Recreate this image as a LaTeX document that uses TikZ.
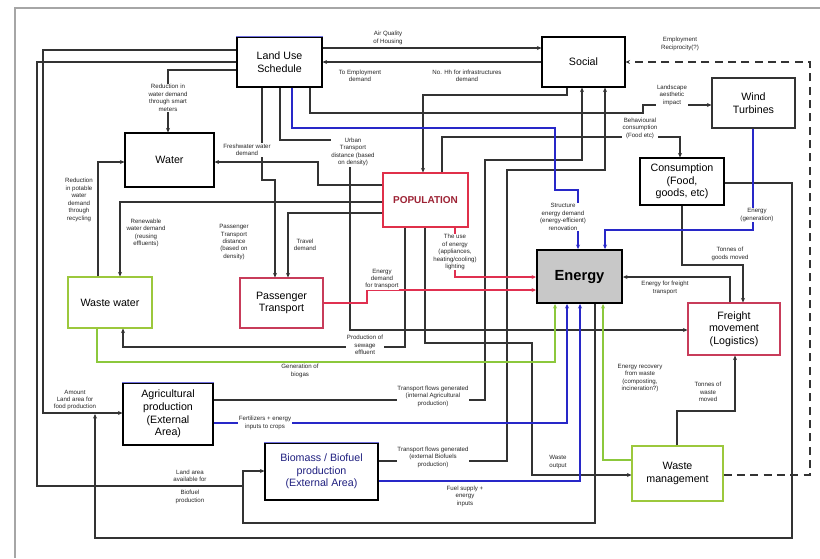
\documentclass[tikz,border=0pt]{standalone}
\usepackage{fontspec}
\setmainfont{Liberation Sans}
\usetikzlibrary{arrows.meta}
\definecolor{ln}{HTML}{333333}
\definecolor{popred}{HTML}{E0304A}
\definecolor{tred}{HTML}{C83C5A}
\definecolor{wgreen}{HTML}{9CC83C}
\definecolor{engray}{HTML}{C8C8C8}
\definecolor{blueln}{HTML}{2828C8}
\definecolor{greenln}{HTML}{8CC83C}
\definecolor{redln}{HTML}{E03050}
\definecolor{blueedge}{HTML}{7070E0}
\definecolor{bluetext}{HTML}{202080}
\begin{document}
\begin{tikzpicture}[x=0.75pt,y=-0.75pt,
 box/.style={draw=black, line width=0.8pt, fill=white, align=center, font=\fontsize{8}{9.5}\selectfont, inner sep=1pt},
 sz/.style 2 args={minimum width=#1*0.75pt, minimum height=#2*0.75pt},
 lbl/.style={fill=white, inner sep=0.4pt, align=center, font=\fontsize{4.6}{5.6}\selectfont, text=black!85},
 conn/.style={draw=ln, line width=0.85pt, -{Stealth[length=3.4pt,width=3pt]}},
 plain/.style={draw=ln, line width=0.85pt}]
\useasboundingbox (0,0) rectangle (820,558);
\draw[gray!70, line width=1.5pt] (15,558) -- (15,8) -- (820,8);
% boxes
\node[box, sz={85}{50}] (land) at (279.5,62) {Land Use\\Schedule};
\node[box, sz={83}{50}] (social) at (583.5,62) {Social};
\node[box, sz={83}{50}, draw=ln] (wind) at (753.5,103) {Wind\\Turbines};
\node[box, sz={89}{54}] (water) at (169.5,160) {Water};
\node[box, sz={85}{54}, draw=popred, text=popred!70!black, font=\bfseries\fontsize{7.5}{9}\selectfont] (pop) at (425.5,200) {POPULATION};
\node[box, sz={84}{47}] (cons) at (682,181.5) {Consumption\\(Food,\\goods, etc)};
\node[box, sz={85}{53}, fill=engray, line width=1.4pt, font=\bfseries\fontsize{11}{13}\selectfont] (energy) at (579.5,276.5) {Energy};
\node[box, sz={84}{51}, draw=wgreen] (wwater) at (110,302.5) {Waste water};
\node[box, sz={83}{50}, draw=tred] (pass) at (281.5,303) {Passenger\\Transport};
\node[box, sz={92}{52}, draw=tred] (freight) at (734,329) {Freight\\movement\\(Logistics)};
\node[box, sz={90}{62}] (agri) at (168,414) {Agricultural\\production\\(External\\Area)};
\node[box, sz={113}{57}, text=bluetext] (bio) at (321.5,471.5) {Biomass / Biofuel\\production\\(External Area)};
\node[box, sz={91}{55}, draw=wgreen] (wmgmt) at (677.5,473.5) {Waste\\management};
\foreach \n in {land,agri,bio} \draw[blueedge, line width=1pt] (\n.north west) -- (\n.north east);
% black connectors
\draw[conn] (land.east |- 0,48) -- (social.west |- 0,48);
\draw[conn] (social.west |- 0,62) -- (land.east |- 0,62);
\draw[conn] (land.west |- 0,50) -- (43,50) -- (43,413) -- (agri.west |- 0,413);
\draw[conn] (land.west |- 0,62) -- (37,62) -- (37,486) -- (243,486) -- (243,471) -- (bio.west |- 0,471);
\draw[plain] (energy.south -| 595,0) -- (595,523) -- (243,523) -- (243,471);
\draw[conn] (land.west |- 0,70) -- (168,70) -- (water.north -| 168,0);
\draw[conn] (wwater.north -| 98,0) -- (98,162) -- (water.west |- 0,162);
\draw[conn] (pop.west |- 0,202) -- (120,202) -- (wwater.north -| 120,0);
\draw[conn] (pop.west |- 0,185) -- (318,185) -- (318,162) -- (water.east |- 0,162);
\draw[conn] (land.south -| 262,0) -- (262,180) -- (275,180) -- (pass.north -| 275,0);
\draw[conn] (pop.west |- 0,213) -- (288,213) -- (pass.north -| 288,0);
\draw[conn] (land.south -| 280,0) -- (280,140) -- (350,140) -- (350,330) -- (freight.west |- 0,330);
\draw[conn] (land.south -| 310,0) -- (310,113) -- (643,113) -- (643,105) -- (wind.west |- 0,105);
\draw[conn] (social.south -| 567,0) -- (567,95) -- (423,95) -- (pop.north -| 423,0);
\draw[conn] (pop.north -| 442,0) -- (442,137) -- (680,137) -- (cons.north -| 680,0);
\draw[conn] (agri.east |- 0,400) -- (485,400) -- (485,160) -- (582,160) -- (social.south -| 582,0);
\draw[conn] (bio.east |- 0,461) -- (507,461) -- (507,170) -- (605,170) -- (social.south -| 605,0);
\draw[conn] (cons.east |- 0,183) -- (792,183) -- (792,538) -- (95,538) -- (95,414);
\draw[conn, dash pattern=on 6pt off 4pt] (wmgmt.east |- 0,475) -- (810,475) -- (810,62) -- (social.east |- 0,62);
\draw[conn] (pop.south -| 405,0) -- (405,347) -- (123,347) -- (wwater.south -| 123,0);
\draw[conn] (pop.south -| 425,0) -- (425,343) -- (532,343) -- (532,475) -- (wmgmt.west |- 0,475);
\draw[conn] (cons.south -| 682,0) -- (682,265) -- (743,265) -- (freight.north -| 743,0);
\draw[conn] (freight.north -| 730,0) -- (730,277) -- (energy.east |- 0,277);
\draw[conn] (wmgmt.north -| 677,0) -- (677,411) -- (735,411) -- (freight.south -| 735,0);
% blue
\draw[conn, draw=blueln] (land.south -| 292,0) -- (292,128) -- (555,128) -- (555,190) -- (578,190) -- (energy.north -| 578,0);
\draw[conn, draw=blueln] (wind.south -| 753,0) -- (753,230) -- (605,230) -- (energy.north -| 605,0);
\draw[conn, draw=blueln] (agri.east |- 0,423) -- (567,423) -- (energy.south -| 567,0);
\draw[conn, draw=blueln] (bio.east |- 0,481) -- (580,481) -- (energy.south -| 580,0);
% green
\draw[conn, draw=greenln] (wwater.south -| 97,0) -- (97,362) -- (555,362) -- (energy.south -| 555,0);
\draw[conn, draw=greenln] (wmgmt.west |- 0,460) -- (603,460) -- (energy.south -| 603,0);
% red
\draw[conn, draw=redln] (pop.south -| 455,0) -- (455,277) -- (energy.west |- 0,277);
\draw[conn, draw=redln] (pass.east |- 0,303) -- (367,303) -- (367,290) -- (energy.west |- 0,290);
% labels
\node[lbl] (l1) at (388,38) {Air Quality\\of Housing};
\node[lbl] (l2) at (360,76) {To Employment\\demand};
\node[lbl] (l3) at (467,76) {No. Hh for infrastructures\\demand};
\node[lbl] (l4) at (680,44) {Employment\\Reciprocity(?)};
\node[lbl] (l5) at (168,98) {Reduction in\\water demand\\through smart\\meters};
\node[lbl] (l6) at (79,200) {Reduction\\in potable\\water\\demand\\through\\recycling};
\node[lbl] (l7) at (247,150) {Freshwater water\\demand};
\node[lbl] (l8) at (353,152) {Urban\\Transport\\distance (based\\on density)};
\node[lbl] (l9) at (672,95) {Landscape\\aesthetic\\impact};
\node[lbl] (l10) at (640,128) {Behavioural\\consumption\\(Food etc)};
\node[lbl] (l11) at (146,233) {Renewable\\water demand\\(reusing\\effluents)};
\node[lbl] (l12) at (234,242) {Passenger\\Transport\\distance\\(based on\\density)};
\node[lbl] (l13) at (305,245) {Travel\\demand};
\node[lbl] (l14) at (382,279) {Energy\\demand\\for transport};
\node[lbl] (l15) at (455,252) {The use\\of energy\\(appliances,\\heating/cooling)\\lighting};
\node[lbl] (l16) at (563,217) {Structure\\energy demand\\(energy-efficient)\\renovation};
\node[lbl] (l17) at (757,215) {Energy\\(generation)};
\node[lbl] (l18) at (730,254) {Tonnes of\\goods moved};
\node[lbl] (l19) at (665,288) {Energy for freight\\transport};
\node[lbl] (l20) at (365,345) {Production of\\sewage\\effluent};
\node[lbl] (l21) at (300,371) {Generation of\\biogas};
\node[lbl] (l22) at (640,378) {Energy recovery\\from waste\\(composting,\\incineration?)};
\node[lbl] (l23) at (708,392) {Tonnes of\\waste\\moved};
\node[lbl] (l24) at (75,400) {Amount\\Land area for\\food production};
\node[lbl] (l25) at (433,396) {Transport flows generated\\(internal Agricultural\\production)};
\node[lbl] (l26) at (265,423) {Fertilizers + energy\\inputs to crops};
\node[lbl] (l27) at (433,457) {Transport flows generated\\(external Biofuels\\production)};
\node[lbl] (l28) at (558,462) {Waste\\output};
\node[lbl] (l29) at (465,496) {Fuel supply +\\energy\\inputs};
\node[lbl] (l30) at (190,476) {Land area\\available for};
\node[lbl] (l31) at (190,497) {Biofuel\\production};
\end{tikzpicture}
\end{document}
